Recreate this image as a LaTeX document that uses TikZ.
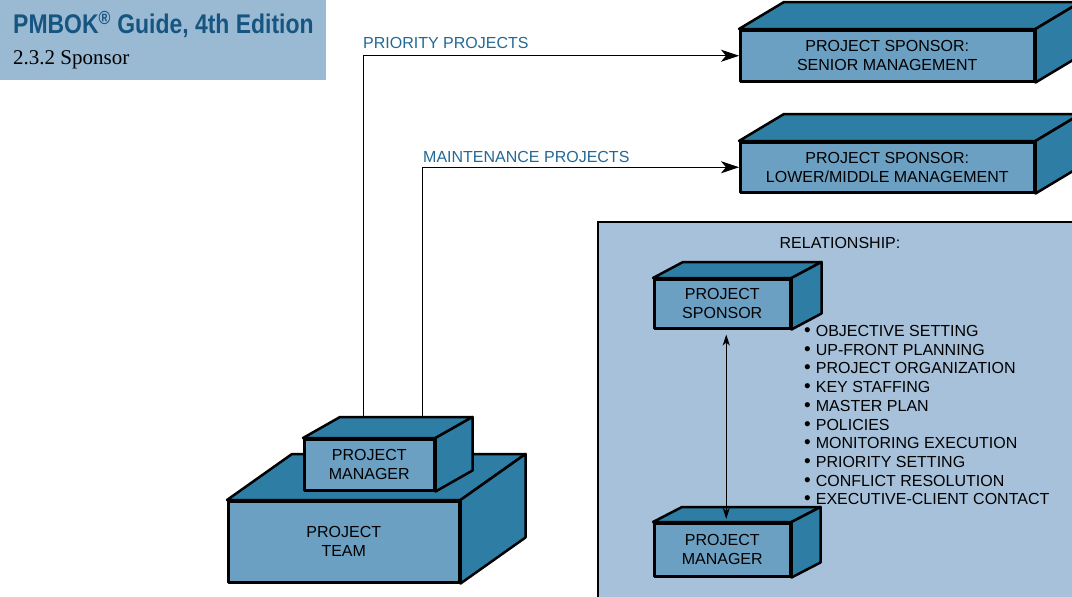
\documentclass[tikz,border=0pt]{standalone}
\usepackage{fontspec}
\setmainfont{Liberation Sans}
\newfontfamily\serifx{Liberation Serif}
\usetikzlibrary{calc,arrows.meta}
\definecolor{titlebg}{HTML}{9ABAD4}
\definecolor{panelbg}{HTML}{A6C1D9}
\definecolor{darkblue}{HTML}{2E7DA5}
\definecolor{frontblue}{HTML}{6CA0C2}
\definecolor{titleblue}{HTML}{165580}
\definecolor{labelblue}{HTML}{236996}
\tikzset{
  front/.style={draw=black, line width=2.5pt, fill=frontblue, inner sep=0pt, align=center,
    font=\fontsize{16}{19}\selectfont, anchor=north west, line join=round},
  face/.style={draw=black, line width=2.5pt, fill=darkblue, line join=round},
  conn/.style={draw=black, line width=0.9pt, -{Stealth[length=18pt,width=12pt,inset=5pt]}},
  dbl/.style={draw=black, line width=0.9pt, {Stealth[length=11pt,width=7pt,inset=3pt]}-{Stealth[length=11pt,width=7pt,inset=3pt]}},
  lbl/.style={text=labelblue, font=\fontsize{16}{19}\selectfont, anchor=base west, inner sep=0pt},
  plain/.style={text=black, font=\fontsize{16}{19}\selectfont, inner sep=0pt},
}
\newcommand{\cubefaces}[3]{%
  \filldraw[face] (#1.north west) -- ++(#2,#3) -- ($(#1.north east)+(#2,#3)$) -- (#1.north east) -- cycle;
  \filldraw[face] (#1.north east) -- ($(#1.north east)+(#2,#3)$) -- ($(#1.south east)+(#2,#3)$) -- (#1.south east) -- cycle;
}
\begin{document}
\begin{tikzpicture}[x=1pt,y=-1pt]
\useasboundingbox (0,0) rectangle (1072,597);
\clip (0,0) rectangle (1072,597);
\fill[white] (0,0) rectangle (1072,597);

% title panel
\fill[titlebg] (0,0) rectangle (326,80);
\node[anchor=base west, inner sep=0pt, text=titleblue, font=\bfseries\fontsize{27}{27}\selectfont] (title) at (13,34)
  {\scalebox{0.85}[1]{PMBOK\textsuperscript{\textregistered} Guide, 4th Edition}};
\node[anchor=base west, inner sep=0pt, font=\serifx\fontsize{21}{21}\selectfont] (subtitle) at (13,64) {2.3.2 Sponsor};

% sponsor boxes
\node[front, minimum width=294pt, minimum height=51pt] (s1) at (739,29) {PROJECT SPONSOR:\\SENIOR MANAGEMENT};
\cubefaces{s1}{45}{-27}
\node[front, minimum width=294pt, minimum height=50pt] (s2) at (739,141) {PROJECT SPONSOR:\\LOWER/MIDDLE MANAGEMENT};
\cubefaces{s2}{45}{-27}

% connectors
\coordinate (pmtop1) at (363,417);
\coordinate (pmtop2) at (422,417);
\draw[conn] (pmtop1) |- (s1.west);
\draw[conn] (pmtop2) |- (s2.west);
\node[lbl] (lab1) at (363,48) {PRIORITY PROJECTS};
\node[lbl] (lab2) at (423,162) {MAINTENANCE PROJECTS};

% team and manager
\node[front, minimum width=231pt, minimum height=81pt] (team) at (227,500) {PROJECT\\TEAM};
\cubefaces{team}{65}{-46}
\node[front, minimum width=130pt, minimum height=51pt] (pm) at (303,438) {PROJECT\\MANAGER};
\cubefaces{pm}{37}{-21}

% relationship panel
\filldraw[fill=panelbg, draw=black, line width=2.5pt] (598,222) rectangle (1100,640);
\node[plain, anchor=base] (rel) at (840,248) {RELATIONSHIP:};
\node[front, minimum width=136pt, minimum height=49pt] (psp) at (653,278) {PROJECT\\SPONSOR};
\cubefaces{psp}{30}{-16}
\node[front, minimum width=136pt, minimum height=53pt] (ppm) at (653,522) {PROJECT\\MANAGER};
\cubefaces{ppm}{29}{-15}
\draw[dbl] ($(psp.south)+(4,5)$) -- ($(ppm.north)+(4,-3)$);

\foreach \t [count=\i] in {OBJECTIVE SETTING, UP-FRONT PLANNING, PROJECT ORGANIZATION, KEY STAFFING,
  MASTER PLAN, POLICIES, MONITORING EXECUTION, PRIORITY SETTING, CONFLICT RESOLUTION, EXECUTIVE-CLIENT CONTACT}
  \node[plain, anchor=base west] (item\i) at (804,{336.5+18.7*(\i-1)}) {{\fontsize{19}{19}\selectfont\textbullet}\hspace{5pt}\t};
\end{tikzpicture}
\end{document}
